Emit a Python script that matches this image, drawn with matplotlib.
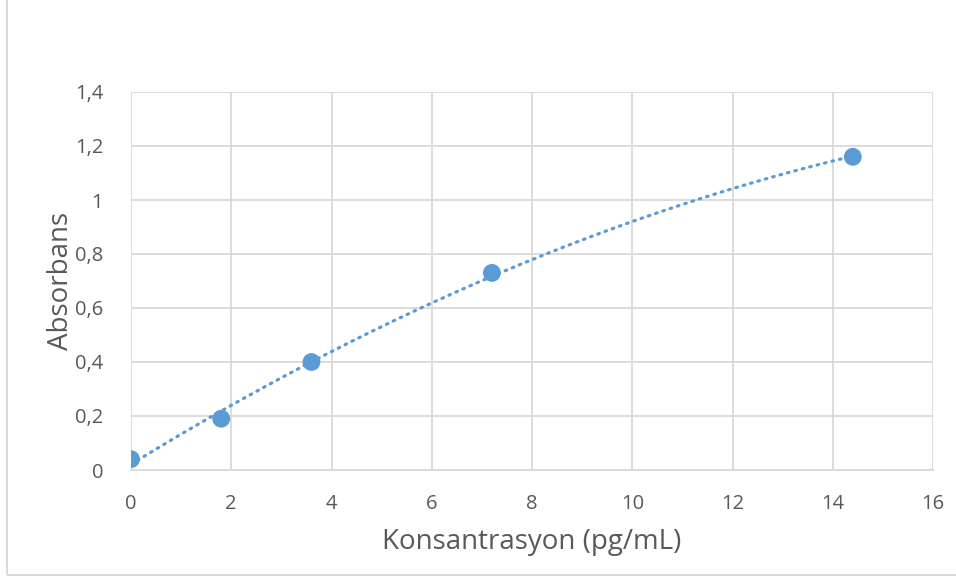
import numpy as np
import matplotlib.pyplot as plt
from matplotlib.patches import Rectangle

# concentration (pg/mL) and absorbance
konsantrasyon = [0, 1.8, 3.6, 7.2, 14.4]
absorbans = [0.04, 0.19, 0.40, 0.73, 1.16]

x_ticks = [0, 2, 4, 6, 8, 10, 12, 14, 16]
y_ticks = [0, 0.2, 0.4, 0.6, 0.8, 1.0, 1.2, 1.4]
y_tick_labels = ['0', '0,2', '0,4', '0,6', '0,8', '1', '1,2', '1,4']

blue = '#5b9bd5'
grey_text = '#595959'
grid_col = '#d9d9d9'

plt.rcParams['font.family'] = ['Open Sans', 'DejaVu Sans']

fig = plt.figure(figsize=(9.56, 5.79), dpi=100)
ax = fig.add_axes([131 / 956, 1 - 470 / 579, (933 - 131) / 956, (470 - 92) / 579])

# polynomial trendline (order 2) like excel
coef = np.polyfit(konsantrasyon, absorbans, 2)
xs = np.linspace(min(konsantrasyon), max(konsantrasyon), 200)
ax.plot(xs, np.polyval(coef, xs), color=blue, linewidth=2.3, linestyle=(0, (0.5, 1.9)),
        dash_capstyle='round', zorder=3)
ax.scatter(konsantrasyon, absorbans, s=165, color=blue, zorder=4, edgecolors='none')

ax.set_xlim(0, 16)
ax.set_ylim(0, 1.4)
ax.set_xticks(x_ticks)
ax.set_yticks(y_ticks)
ax.set_yticklabels(y_tick_labels)
ax.grid(True, color=grid_col, linewidth=1.3)
ax.set_axisbelow(True)
for s in ['top', 'right', 'left']:
    ax.spines[s].set_visible(False)
ax.spines['bottom'].set_color(grid_col)
ax.spines['bottom'].set_linewidth(1.3)
ax.tick_params(length=0, labelsize=14.5, colors=grey_text)
ax.tick_params(axis='x', pad=17)
ax.tick_params(axis='y', pad=20)

ax.set_xlabel('Konsantrasyon (pg/mL)', fontsize=20, color=grey_text, labelpad=10)
ax.set_ylabel('Absorbans', fontsize=20, color=grey_text, labelpad=0)

# chart area border
fig.patches.append(Rectangle((7 / 956, 1 - 575 / 579), 1.2, 1.2, transform=fig.transFigure,
                             fill=False, edgecolor=grid_col, linewidth=1.5))

fig.savefig('out.png', dpi=100)
